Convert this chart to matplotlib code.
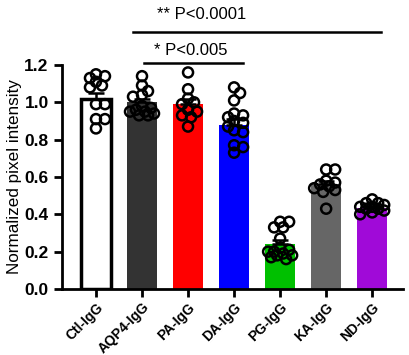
import matplotlib.pyplot as plt
import numpy as np

plt.rcParams["font.family"] = ["Liberation Sans", "DejaVu Sans"]

groups = ["Ctl-IgG", "AQP4-IgG", "PA-IgG", "DA-IgG", "PG-IgG", "KA-IgG", "ND-IgG"]
means = [1.02, 1.00, 0.99, 0.88, 0.24, 0.56, 0.435]
errors = [0.03, 0.015, 0.025, 0.03, 0.02, 0.02, 0.008]
colors = ["white", "#333333", "#ff0000", "#0000ff", "#00c000", "#666666", "#a00ad8"]

points = [
    [1.15, 1.14, 1.13, 1.11, 1.09, 1.08, 0.99, 0.99, 0.91, 0.91, 0.86],
    [1.14, 1.09, 1.06, 1.04, 1.03, 0.98, 0.97, 0.96, 0.95, 0.94, 0.93, 0.93, 0.95],
    [1.16, 1.07, 1.02, 1.00, 0.99, 0.95, 0.93, 0.92, 0.87, 0.96],
    [1.08, 1.05, 1.01, 0.94, 0.93, 0.92, 0.90, 0.89, 0.87, 0.85, 0.84, 0.77, 0.76, 0.73],
    [0.36, 0.36, 0.33, 0.33, 0.27, 0.22, 0.21, 0.20, 0.19, 0.18, 0.17, 0.16, 0.20, 0.18],
    [0.64, 0.64, 0.58, 0.57, 0.56, 0.55, 0.54, 0.53, 0.52, 0.43],
    [0.48, 0.46, 0.46, 0.45, 0.44, 0.44, 0.43, 0.43, 0.42, 0.41, 0.40],
]


def swarm(values, px_x=46.0, px_y=186.7, diam=7.0, max_off=13.0):
    # rough beeswarm that allows overlap, limited to the bar width
    placed = []
    offsets = np.zeros(len(values))
    order = np.argsort(values)[::-1]
    cands = [0.0]
    for k in range(1, int(max_off / 3) + 1):
        cands += [k * 3.0, -k * 3.0]
    for i in order:
        v = values[i]
        best, best_d = 0.0, -1
        for c in cands:
            d = min([np.hypot(c - px, (v - pv) * px_y) for px, pv in placed] or [99])
            if d >= diam:
                best = c
                break
            if d > best_d:
                best, best_d = c, d
        placed.append((best, v))
        offsets[i] = best / px_x
    return offsets


fig = plt.figure(figsize=(4.1, 3.55), dpi=100)
ax = fig.add_axes([0.151, 0.186, 0.832, 0.631])

x = np.arange(len(groups))
ax.bar(x, means, width=0.64, color=colors,
       edgecolor=["black"] + colors[1:], linewidth=[2.5] + [0] * 6, zorder=1)
ax.errorbar(x, means, yerr=[np.zeros(len(x)), errors], fmt="none",
            ecolor="black", elinewidth=1.8, capsize=6, capthick=1.8, zorder=2)

for i, vals in enumerate(points):
    vals = np.array(vals)
    ax.scatter(i + swarm(vals), vals, s=52, facecolors="none",
               edgecolors="black", linewidths=1.8, zorder=3, clip_on=False)

ax.set_xlim(-0.74, 6.67)
ax.set_ylim(0, 1.2)
ax.set_yticks([0.0, 0.2, 0.4, 0.6, 0.8, 1.0, 1.2])
ax.set_yticklabels(["0.0", "0.2", "0.4", "0.6", "0.8", "1.0", "1.2"],
                   fontsize=12.5, fontweight="bold")
ax.set_xticks(x)
ax.set_xticklabels(groups, rotation=45, ha="right", rotation_mode="anchor",
                   fontsize=10, fontweight="bold")
ax.set_ylabel("Normalized pixel intensity", fontsize=12.3, labelpad=2)

for s in ["top", "right"]:
    ax.spines[s].set_visible(False)
for s in ["left", "bottom"]:
    ax.spines[s].set_linewidth(2)
ax.tick_params(width=2, length=6)
ax.tick_params(axis="x", pad=2)

# significance brackets
ax.plot([0.8, 6.2], [1.377, 1.377], color="black", lw=1.8, clip_on=False)
ax.text(2.3, 1.47, "** P<0.0001", ha="center", va="center", fontsize=12)
ax.plot([1.04, 3.2], [1.21, 1.21], color="black", lw=1.8, clip_on=False)
ax.text(2.05, 1.28, "* P<0.005", ha="center", va="center", fontsize=12)

plt.savefig("out.png", dpi=100)
